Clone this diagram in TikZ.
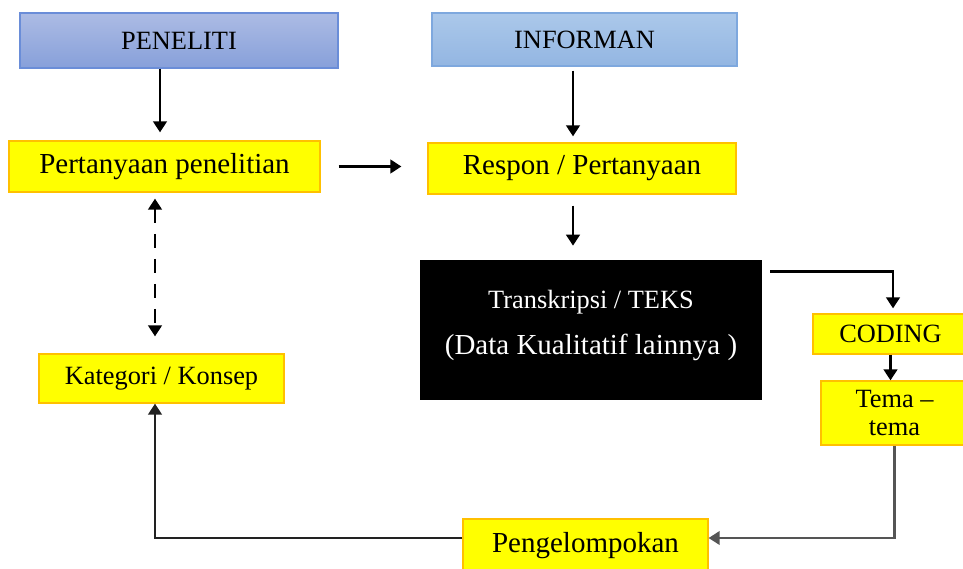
\documentclass[tikz,border=0pt]{standalone}
\usepackage{fontspec}
\setmainfont{Liberation Serif}
\usetikzlibrary{arrows.meta,positioning}

\definecolor{kuning}{HTML}{FFFF00}
\definecolor{tepikuning}{HTML}{FFC000}
\definecolor{biruA}{HTML}{ACBBE4}
\definecolor{biruB}{HTML}{87A0DA}
\definecolor{tepibiruA}{HTML}{6A8DD8}
\definecolor{biruC}{HTML}{ABC8EA}
\definecolor{biruD}{HTML}{93B6E2}
\definecolor{tepibiruC}{HTML}{7EA8DE}
\definecolor{garis}{HTML}{222222}
\definecolor{garisabu}{HTML}{555555}

\begin{document}
\begin{tikzpicture}[
    % GLOBAL CFG
    >={Triangle[length=2.2mm,width=2.7mm]},
    line width=1.5pt,
    % Styles
    kepala/.style={% For the two blue boxes on top
        rectangle,
        draw,
        line width=.7pt,
        inner sep=0pt,
        font=\fontsize{15}{18}\selectfont,
        },
    kotak/.style={% For the yellow boxes
        rectangle,
        draw=tepikuning,
        fill=kuning,
        line width=.7pt,
        inner sep=0pt,
        font=\fontsize{15}{18}\selectfont,
        },
    besar/.style={% bigger text in some boxes
        font=\fontsize{16.5}{19}\selectfont,
        },
    hitam/.style={% For the black box
        rectangle,
        fill=black,
        text=white,
        align=center,
        inner sep=0pt,
        font=\fontsize{15}{19}\selectfont,
        },
    panah/.style={% Arrows
        ->,
        draw=black,
        },
    ]

    \useasboundingbox (0,0) rectangle (19.26,-11.38);

    % Top boxes
    \node [kepala, draw=tepibiruA, top color=biruA, bottom color=biruB,
        minimum width=6.36cm, minimum height=1.10cm] (peneliti) at (3.58,-0.81) {PENELITI};
    \node [kepala, draw=tepibiruC, top color=biruC, bottom color=biruD,
        minimum width=6.10cm, minimum height=1.06cm] (informan) at (11.69,-0.79) {INFORMAN};

    % Yellow boxes
    \node [kotak, besar, minimum width=6.22cm, minimum height=1.02cm] (tanya) at (3.29,-3.33) {Pertanyaan penelitian};
    \node [kotak, besar, minimum width=6.16cm, minimum height=1.02cm] (respon) at (11.64,-3.37) {Respon / Pertanyaan};
    \node [kotak, minimum width=4.90cm, minimum height=0.98cm] (kategori) at (3.23,-7.57) {Kategori / Konsep};
    \node [kotak, minimum width=3.10cm, minimum height=0.80cm] (coding) at (17.81,-6.68) {CODING};
    \node [kotak, align=center, font=\fontsize{15}{15.5}\selectfont,
        minimum width=2.94cm, minimum height=1.28cm] (tema) at (17.89,-8.26) {Tema --\\tema};
    \node [kotak, besar, minimum width=4.90cm, minimum height=1.06cm] (kelompok) at (11.71,-10.91) {Pengelompokan};

    % Black box
    \node [hitam, minimum width=6.84cm, minimum height=2.80cm] (teks) at (11.82,-6.60)
        {Transkripsi / TEKS\\[7pt]{\fontsize{16.5}{19}\selectfont(Data Kualitatif lainnya )}\\[-10pt]};

    % Arrows
    \draw [panah] ([xshift=-0.38cm]peneliti.south) -- ([xshift=-0.09cm,yshift=0.16cm]tanya.north);
    \draw [panah] ([xshift=-0.23cm,yshift=-0.08cm]informan.south) -- ([xshift=-0.18cm,yshift=0.12cm]respon.north);
    \draw [panah, shorten <=.36cm, shorten >=.52cm] (tanya.east) -- (tanya.east -| respon.west);
    \draw [panah] ([xshift=-0.18cm,yshift=-0.22cm]respon.south) -- ([xshift=-0.36cm,yshift=0.26cm]teks.north);
    \draw [panah] ([xshift=0.14cm,yshift=-0.26cm]teks.north east) -| ([xshift=0.05cm,yshift=0.1cm]coding.north);
    \draw [panah] (coding.south) -- (coding.south |- tema.north);
    \draw [panah, draw=garisabu, line width=1.2pt] (tema.south) |- ([yshift=0.15cm]kelompok.east);
    \draw [panah, draw=garis] ([yshift=0.15cm]kelompok.west) -| ([xshift=-0.13cm]kategori.south);

    % Dashed link
    \draw [<->, dash pattern=on 0.28cm off 0.22cm] ([xshift=-0.19cm,yshift=-0.12cm]tanya.south) -- ([xshift=-0.13cm,yshift=0.34cm]kategori.north);

\end{tikzpicture}
\end{document}
